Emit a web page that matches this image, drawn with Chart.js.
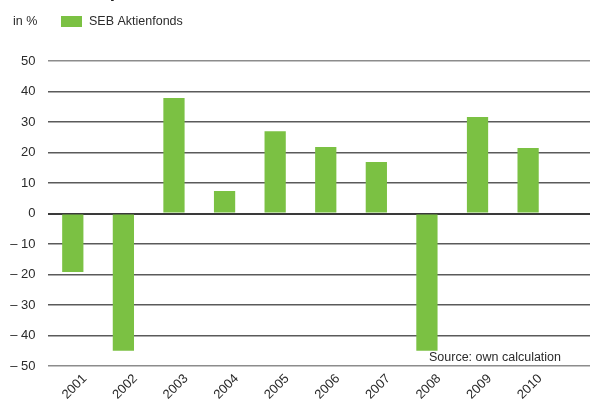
<!DOCTYPE html>
<html>
<head>
<meta charset="utf-8">
<script src="https://cdn.jsdelivr.net/npm/chart.js@4/dist/chart.umd.min.js"></script>
<style>
  html, body { margin: 0; padding: 0; background: #fff; overflow: hidden; }
  #wrap { width: 604px; height: 401px; }
</style>
</head>
<body>
<div id="wrap"><canvas id="chart" width="604" height="401"></canvas></div>
<script>
// SEB Aktienfonds - yearly performance (in %)

const years = ['2001', '2002', '2003', '2004', '2005', '2006', '2007', '2008', '2009', '2010', ''];
const perf = [-19.2, -45, 37.9, 7.4, 27, 21.8, 16.9, -45, 31.6, 21.5, null];
const yTicks = [50, 40, 30, 20, 10, 0, -10, -20, -30, -40, -50];

const FONT = "'Liberation Sans', Arial, sans-serif";
const green = '#7bc143';
const textColor = '#2b2b2b';

// legend, "in %", source note and clipped title drawn on top
const extras = {
    id: 'extras',
    afterDraw(chart) {
        const ctx = chart.ctx;
        ctx.save();
        ctx.fillStyle = '#222';
        ctx.font = "bold 19px " + FONT;
        ctx.textBaseline = 'alphabetic';
        ctx.textAlign = 'left';
        ctx.fillText('Annual performance of the fund', 40, -3);

        ctx.font = '12.5px ' + FONT;
        ctx.fillStyle = textColor;
        ctx.textBaseline = 'middle';
        ctx.fillText('in %', 13, 22);

        ctx.fillStyle = green;
        ctx.fillRect(61, 16, 21, 11);
        ctx.fillStyle = textColor;
        ctx.fillText('SEB Aktienfonds', 89, 22);

        ctx.fillText('Source: own calculation', 429, 358);
        ctx.restore();
    }
};

new Chart(document.getElementById('chart').getContext('2d'), {
    type: 'bar',
    data: {
        labels: years,
        datasets: [{
            label: 'SEB Aktienfonds',
            data: perf,
            backgroundColor: green,
            borderWidth: 0,
            categoryPercentage: 1,
            barPercentage: 0.42
        }]
    },
    options: {
        responsive: false,
        animation: false,
        layout: { padding: { top: 61, left: 0, right: 0, bottom: 0 } },
        plugins: {
            legend: { display: false },
            tooltip: { enabled: false }
        },
        scales: {
            x: {
                grid: { display: false, drawTicks: false },
                border: { display: false },
                ticks: {
                    autoSkip: false,
                    minRotation: 45,
                    maxRotation: 45,
                    padding: 5,
                    labelOffset: 12,
                    color: textColor,
                    font: { family: FONT, size: 13 }
                },
                afterFit(scale) { scale.height = 35; }
            },
            y: {
                min: -50,
                max: 50,
                afterBuildTicks(scale) { scale.ticks = yTicks.map(v => ({ value: v })); },
                grid: {
                    drawTicks: false,
                    color: c => c.tick.value === 0 ? '#3a3a3a' : (Math.abs(c.tick.value) === 50 ? '#8c8c8c' : '#5a5a5a'),
                    lineWidth: c => c.tick.value === 0 ? 2 : 1.5
                },
                border: { display: false },
                ticks: {
                    padding: 12,
                    color: textColor,
                    font: { family: FONT, size: 13 },
                    callback: v => v < 0 ? '\u2013 ' + Math.abs(v) : String(v)
                },
                afterFit(scale) { scale.width = 47.5; }
            }
        }
    },
    plugins: [extras]
});
</script>
</body>
</html>
